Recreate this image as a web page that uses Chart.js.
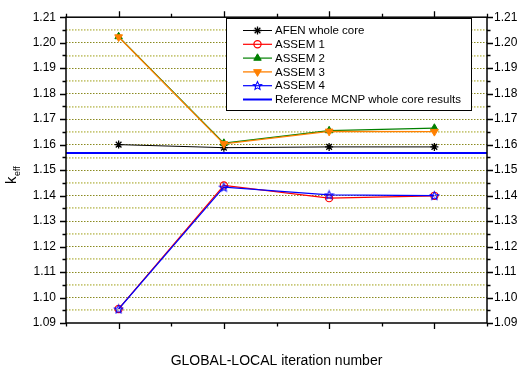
<!DOCTYPE html>
<html><head><meta charset="utf-8">
<script src="https://cdn.jsdelivr.net/npm/chart.js@4"></script>
<style>html,body{margin:0;padding:0;background:#fff}#wrap{width:518px;height:371px}</style>
</head><body><div id="wrap"><canvas id="c" width="518" height="371"></canvas></div>
<script>
const iterations = [0, 1, 2, 3];
const afen   = [1.1600, 1.1588, 1.1591, 1.1591];
const assem1 = [1.0955, 1.1440, 1.1390, 1.1399];
const assem2 = [1.2024, 1.1606, 1.1655, 1.1665];
const assem3 = [1.2022, 1.1603, 1.1652, 1.1651];
const assem4 = [1.0955, 1.1433, 1.1403, 1.1400];
const mcnpRef = 1.1567;
const refX = [-0.5, 3.5];
const yTickLabels = ['1.09','1.10','1.11','1.12','1.13','1.14','1.15','1.16','1.17','1.18','1.19','1.20','1.21'];
const xTickLabels = ['0','1','2','3'];

const FONT = 'Liberation Sans, Arial, sans-serif';

function starCanvas(color){
  const s = 11, c = document.createElement('canvas'); c.width = s; c.height = s;
  const g = c.getContext('2d'); g.strokeStyle = color; g.lineWidth = 1.1;
  g.beginPath();
  const R = 4.3, r = 2.0, cx = s/2, cy = s/2 + 0.4;
  for (let i = 0; i < 10; i++) {
    const a = -Math.PI/2 + i*Math.PI/5, rr = i%2 ? r : R;
    const px = cx + rr*Math.cos(a), py = cy + rr*Math.sin(a);
    i ? g.lineTo(px, py) : g.moveTo(px, py);
  }
  g.closePath(); g.stroke();
  return c;
}
const blueStar = starCanvas('#0000ff');

const pts = arr => iterations.map((x,i)=>({x, y: arr[i]}));

const datasets = [
  {label:'AFEN whole core', data: pts(afen), borderColor:'#000', backgroundColor:'#000', borderWidth:1,
   pointStyle:'star', pointRadius:4, pointBorderWidth:1.3, pointBorderColor:'#000'},
  {label:'ASSEM 1', data: pts(assem1), borderColor:'#ff0000', backgroundColor:'rgba(255,255,255,0)', borderWidth:1.2,
   pointStyle:'circle', pointRadius:3.6, pointBorderWidth:1.2, pointBorderColor:'#ff0000'},
  {label:'ASSEM 2', data: pts(assem2), borderColor:'#008000', backgroundColor:'#008000', borderWidth:1.2,
   pointStyle:'triangle', pointRadius:4.3, pointBorderWidth:1, pointBorderColor:'#008000'},
  {label:'ASSEM 3', data: pts(assem3), borderColor:'#ff8000', backgroundColor:'#ff8000', borderWidth:1.3,
   pointStyle:'triangle', pointRotation:180, pointRadius:4.5, pointBorderWidth:1, pointBorderColor:'#ff8000'},
  {label:'ASSEM 4', data: pts(assem4), borderColor:'#0000ff', backgroundColor:'#0000ff', borderWidth:1.2,
   pointStyle: blueStar, pointRadius:4},
  {label:'Reference MCNP whole core results', data: refX.map(x=>({x, y: mcnpRef})), borderColor:'#0000ff', backgroundColor:'#0000ff', borderWidth:2,
   pointRadius:0}
];
datasets.forEach((d,i)=>{ d.order = (i===5) ? 10 : (6-i); d.tension = 0; d.fill = false; });

const isMajorY = v => Math.abs(Math.round(v*100) - v*100) < 1e-6;

const ticksPlugin = {
  id:'ticksPlugin',
  afterDraw(chart){
    const ctx = chart.ctx, a = chart.chartArea;
    const y = chart.scales.y, x = chart.scales.x;
    ctx.save(); ctx.strokeStyle = '#000'; ctx.lineWidth = 1.3;
    ctx.beginPath();
    for (let k = 0; k <= 24; k++) {
      const v = 1.09 + k*0.005, p = Math.round(y.getPixelForValue(v)) + 0.5;
      const L = (k % 2 === 0) ? 6 : 3.5;
      ctx.moveTo(a.left - L, p); ctx.lineTo(a.left, p);
      ctx.moveTo(a.right, p); ctx.lineTo(a.right + L, p);
    }
    for (let k = -1; k <= 7; k++) {
      const v = k*0.5, p = Math.round(x.getPixelForValue(v)) + 0.5;
      const L = (k % 2 === 0) ? 6 : 3.5;
      ctx.moveTo(p, a.bottom); ctx.lineTo(p, a.bottom + L);
      ctx.moveTo(p, a.top - L); ctx.lineTo(p, a.top);
    }
    ctx.stroke();
    ctx.lineWidth = 1.5;
    ctx.strokeRect(a.left, a.top, a.right - a.left, a.bottom - a.top);
    ctx.fillStyle = '#000';
    ctx.translate(16, 180); ctx.rotate(-Math.PI/2);
    ctx.font = '15px ' + FONT; ctx.textBaseline = 'alphabetic'; ctx.textAlign = 'left';
    ctx.fillText('k', -4, 0);
    ctx.font = '9px ' + FONT;
    ctx.fillText('eff', 4, 4);
    ctx.restore();
    ctx.save(); ctx.fillStyle = '#000'; ctx.font = '14px ' + FONT; ctx.textAlign = 'center'; ctx.textBaseline = 'middle';
    ctx.fillText('GLOBAL-LOCAL iteration number', (a.left + a.right)/2, 361);
    ctx.restore();
    ctx.save();
    const bx = 226.5, by = 18.5, bw = 245, bh = 92;
    ctx.fillStyle = '#fff'; ctx.fillRect(bx, by, bw, bh);
    ctx.strokeStyle = '#000'; ctx.lineWidth = 1; ctx.strokeRect(bx, by, bw, bh);
    ctx.font = '11.5px ' + FONT; ctx.textBaseline = 'middle'; ctx.textAlign = 'left';
    chart.data.datasets.forEach((d, i) => {
      const ry = 30.5 + i*13.8;
      ctx.strokeStyle = d.borderColor; ctx.lineWidth = d.borderWidth;
      ctx.beginPath(); ctx.moveTo(243, ry); ctx.lineTo(272, ry); ctx.stroke();
      if (d.pointRadius > 0) {
        if (d.pointStyle instanceof HTMLCanvasElement) {
          ctx.drawImage(d.pointStyle, Math.round(257.5 - d.pointStyle.width/2), Math.round(ry - d.pointStyle.height/2));
        } else {
          ctx.fillStyle = d.backgroundColor; ctx.strokeStyle = d.pointBorderColor || d.borderColor;
          ctx.lineWidth = d.pointBorderWidth || 1;
          Chart.helpers.drawPoint(ctx, {pointStyle: d.pointStyle, radius: d.pointRadius, rotation: d.pointRotation || 0, borderWidth: d.pointBorderWidth}, 257.5, ry);
        }
      }
      ctx.fillStyle = '#000';
      ctx.fillText(d.label, 275, ry + 0.5);
    });
    ctx.restore();
  }
};

const gridColor = ctx => {
  const v = ctx.tick && ctx.tick.value;
  if (v === undefined) return 'rgba(0,0,0,0)';
  if (v <= 1.0901 || v >= 1.2099) return 'rgba(0,0,0,0)';
  return isMajorY(v) ? '#8a8a20' : '#c8c878';
};

new Chart(document.getElementById('c'), {
  type:'line',
  data:{ datasets },
  options:{
    responsive:false, animation:false, devicePixelRatio:1,
    layout:{ padding:0 },
    plugins:{ legend:{display:false}, tooltip:{enabled:false} },
    scales:{
      x:{ type:'linear', position:'bottom', min:-0.5, max:3.5,
          afterFit(s){ s.height = 48; },
          grid:{ display:false, drawTicks:false },
          border:{ display:false },
          ticks:{ stepSize:1, padding:9, color:'#000', font:{family:FONT, size:12},
                  autoSkip:false, maxRotation:0,
                  callback:(v)=> { const i = iterations.indexOf(v); return i>=0 ? xTickLabels[i] : ''; } } },
      x2:{ type:'linear', position:'top', min:-0.5, max:3.5,
          afterFit(s){ s.height = 15; },
          grid:{ display:false, drawTicks:false }, border:{display:false},
          ticks:{ display:false } },
      y:{ type:'linear', position:'left', min:1.09, max:1.21,
          afterFit(s){ s.width = 66; },
          grid:{ drawTicks:false, color: gridColor, lineWidth: ctx => (ctx.tick && isMajorY(ctx.tick.value)) ? 1 : 1.7 },
          border:{ display:false, dash:[1.5,1.5] },
          ticks:{ stepSize:0.005, padding:10, color:'#000', font:{family:FONT, size:12}, autoSkip:false,
                  callback:(v)=> { if (!isMajorY(v)) return ''; const i = Math.round((v-1.09)*100); return yTickLabels[i]; } } },
      y2:{ type:'linear', position:'right', min:1.09, max:1.21,
          afterFit(s){ s.width = 31; },
          grid:{ display:false, drawTicks:false }, border:{display:false},
          ticks:{ stepSize:0.005, padding:7, color:'#000', font:{family:FONT, size:12}, autoSkip:false,
                  callback:(v)=> { if (!isMajorY(v)) return ''; const i = Math.round((v-1.09)*100); return yTickLabels[i]; } } }
    }
  },
  plugins:[ticksPlugin]
});
</script></body></html>
